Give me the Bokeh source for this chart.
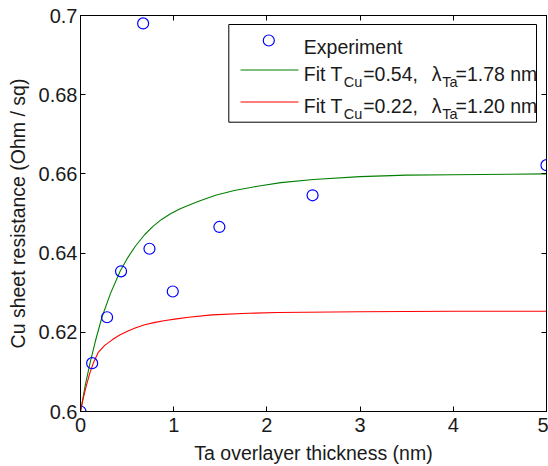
from bokeh.plotting import figure
from bokeh.models import Range1d, LinearAxis, FixedTicker, CustomJSTickFormatter, Label, BoxAnnotation
from bokeh.embed import file_html
from bokeh.resources import INLINE

# ---- data ----
thickness = [0.0, 0.125, 0.285, 0.435, 0.672, 0.74, 0.99, 1.49, 2.49, 5.0]
resistance = [0.600, 0.6122, 0.6238, 0.6354, 0.698, 0.6411, 0.6303, 0.6466, 0.6546, 0.6622]

fit1_x = [0.0, 0.05, 0.10, 0.16, 0.23, 0.32, 0.425, 0.50, 0.59, 0.69, 0.78, 0.87, 0.97, 1.07,
          1.18, 1.29, 1.45, 1.65, 1.9, 2.15, 2.5, 3.0, 3.5, 4.0, 5.0]
fit1_y = [0.600, 0.6065, 0.6120, 0.6178, 0.6238, 0.6297, 0.6354, 0.6386, 0.6418, 0.6447,
          0.6468, 0.6485, 0.6500, 0.6512, 0.6523, 0.6533, 0.6546, 0.6558, 0.6569, 0.6578,
          0.6586, 0.6593, 0.6597, 0.6598, 0.6600]

fit2_x = [0.0, 0.03, 0.06, 0.10, 0.14, 0.19, 0.26, 0.34, 0.42, 0.515, 0.60, 0.69, 0.80, 0.91,
          1.03, 1.16, 1.41, 1.8, 2.12, 3.0, 4.0, 5.0]
fit2_y = [0.600, 0.6034, 0.6063, 0.6097, 0.6124, 0.6149, 0.6167, 0.6181, 0.6193, 0.6204,
          0.6212, 0.6219, 0.6225, 0.6230, 0.6234, 0.6238, 0.6244, 0.6248, 0.6250, 0.6252,
          0.6253, 0.6253]

x_ticks = [0, 1, 2, 3, 4, 5]
x_tick_labels = ["0", "1", "2", "3", "4", "5"]
y_ticks = [0.6, 0.62, 0.64, 0.66, 0.68, 0.7]
y_tick_labels = ["0.6", "0.62", "0.64", "0.66", "0.68", "0.7"]

x_label = "Ta overlayer thickness (nm)"
y_label = "Cu sheet resistance (Ohm / sq)"
legend_exp = "Experiment"
legend_fit1 = ["Fit T", "Cu", "=0.54,", "\u03bb", "Ta", "=1.78 nm"]
legend_fit2 = ["Fit T", "Cu", "=0.22,", "\u03bb", "Ta", "=1.20 nm"]

FONT = "Liberation Sans"
TXT = "#1a1a1a"
BLUE = "#0000ff"
GREEN = "#008000"
RED = "#ff0000"

# frame geometry in page pixels (used for legend placement only)
FL, FR, FT, FB = 80.0, 546.0, 15.0, 411.0
X0, X1, Y0, Y1 = 0.0, 5.0, 0.6, 0.7


def dx(px):
    return X0 + (px - FL) / (FR - FL) * (X1 - X0)


def dy(py):
    return Y0 + (FB - py) / (FB - FT) * (Y1 - Y0)


p = figure(width=548, height=466, output_backend="svg", toolbar_location=None,
           x_range=Range1d(X0, X1), y_range=Range1d(Y0, Y1),
           min_border_left=80, min_border_right=2, min_border_top=15, min_border_bottom=55)

p.xgrid.visible = False
p.ygrid.visible = False
p.outline_line_color = "black"
p.outline_line_width = 1
p.background_fill_color = "white"
p.border_fill_color = "white"

fmt_code = """
for (let i = 0; i < t.length; i++) { if (Math.abs(t[i] - tick) < 1e-9) return l[i]; }
return '';
"""

p.xaxis.ticker = FixedTicker(ticks=x_ticks)
p.xaxis.formatter = CustomJSTickFormatter(args=dict(t=x_ticks, l=x_tick_labels), code=fmt_code)
p.yaxis.ticker = FixedTicker(ticks=y_ticks)
p.yaxis.formatter = CustomJSTickFormatter(args=dict(t=y_ticks, l=y_tick_labels), code=fmt_code)
p.xaxis.axis_label = x_label
p.yaxis.axis_label = y_label

for ax in (p.xaxis, p.yaxis):
    ax.axis_line_color = "black"
    ax.axis_line_width = 1
    ax.major_tick_in = 5
    ax.major_tick_out = 0
    ax.major_tick_line_color = "black"
    ax.minor_tick_in = 0
    ax.minor_tick_out = 0
    ax.minor_tick_line_color = None
    ax.major_label_text_font = FONT
    ax.major_label_text_font_size = "20px"
    ax.major_label_text_color = TXT
    ax.axis_label_text_font = FONT
    ax.axis_label_text_font_size = "19.5px"
    ax.axis_label_text_font_style = "normal"
    ax.axis_label_text_color = TXT

p.xaxis.major_label_standoff = 6
p.xaxis.axis_label_standoff = 7
p.yaxis.major_label_standoff = 3
p.yaxis.axis_label_standoff = 7

for loc, tk in (("above", x_ticks), ("right", y_ticks)):
    ax = LinearAxis(ticker=FixedTicker(ticks=tk),
                    formatter=CustomJSTickFormatter(code="return '';"),
                    major_tick_in=5, major_tick_out=0, minor_tick_in=0, minor_tick_out=0,
                    minor_tick_line_color=None, major_label_standoff=0,
                    axis_line_color="black", major_tick_line_color="black")
    p.add_layout(ax, loc)

# ---- legend box (underlay, drawn before glyphs) ----
p.add_layout(BoxAnnotation(left=dx(228.3), right=dx(536), top=dy(24), bottom=dy(121.7),
                           fill_color="white", fill_alpha=1.0, line_color="black",
                           line_width=1, line_alpha=1.0, level="underlay"))

# ---- data glyphs ----
p.line(fit1_x, fit1_y, line_color=GREEN, line_width=1.1, line_join="round")
p.line(fit2_x, fit2_y, line_color=RED, line_width=1.1, line_join="round")

# ---- legend glyphs ----
p.line([dx(240), dx(298)], [dy(69.5), dy(69.5)], line_color=GREEN, line_width=1.2)
p.line([dx(240), dx(298)], [dy(101.5), dy(101.5)], line_color=RED, line_width=1.2)

p.scatter(thickness, resistance, marker="circle", size=11, fill_color=None,
          line_color=BLUE, line_width=1.2)
p.scatter([dx(268.3)], [dy(40)], marker="circle", size=11, fill_color=None,
          line_color=BLUE, line_width=1.2)


def add_text(px, py, txt, size, align="left"):
    p.add_layout(Label(x=dx(px), y=dy(py), text=txt, text_font=FONT,
                       text_font_size=size, text_color=TXT,
                       text_align=align, text_baseline="alphabetic"))


add_text(303.3, 46, legend_exp, "19.5px")
xs = [303.3, 343.3, 362.7, 441.0, 441.7, 455.0]
aligns = ["left", "left", "left", "right", "left", "left"]
for row, base, sub in ((legend_fit1, 73.3, 81.7), (legend_fit2, 105.0, 113.5)):
    for i, piece in enumerate(row):
        if i in (1, 4):
            add_text(xs[i], sub, piece, "14.5px", aligns[i])
        else:
            add_text(xs[i], base, piece, "19.5px", aligns[i])

open("out.html", "w").write(file_html(p, INLINE))
